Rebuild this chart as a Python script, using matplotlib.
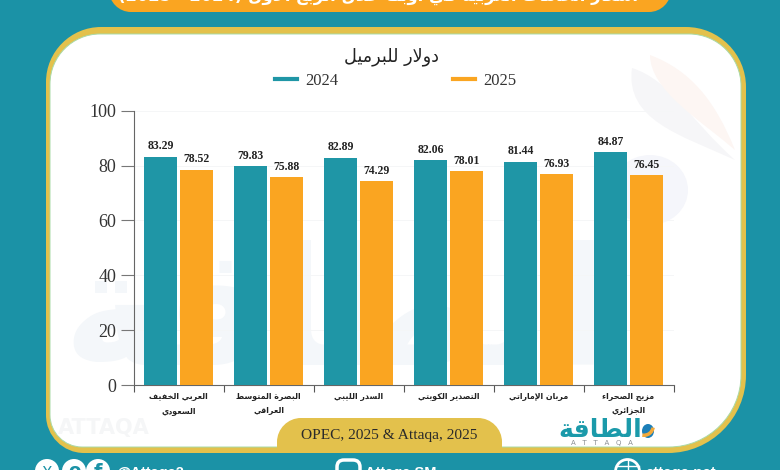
import matplotlib
matplotlib.use("Agg")
import matplotlib.pyplot as plt
from matplotlib.lines import Line2D
from matplotlib.patches import Circle, Ellipse, PathPatch, Wedge, FancyBboxPatch
from matplotlib.path import Path

# data
categories = ["العربي الخفيف\nالسعودي", "البصرة المتوسط\nالعراقي", "السدر الليبي",
              "التصدير الكويتي", "مربان الإماراتي", "مزيج الصحراء\nالجزائري"]
values_2024 = [83.29, 79.83, 82.89, 82.06, 81.44, 84.87]
values_2025 = [78.52, 75.88, 74.29, 78.01, 76.93, 76.45]
y_ticks = [0, 20, 40, 60, 80, 100]
series_names = ["2024", "2025"]
unit_label = "دولار للبرميل"
header_text = "أسعار الخامات العربية في أوبك خلال الربع الأول (2025\u00a0-\u00a02024)"
source_text = "OPEC, 2025 & Attaqa, 2025"
logo_text = "الطاقة"

TEAL = "#1B92A6"
BAR_TEAL = "#1F96A6"
ORANGE = "#FAA521"
GOLD = "#E3C14C"
SERIF = "Liberation Serif"
ARABIC = "DejaVu Sans"

# matplotlib does not join arabic letters, so pick the presentation forms here
FOUR = {"ئ": 0xFE89, "ب": 0xFE8F, "ت": 0xFE95, "ث": 0xFE99, "ج": 0xFE9D, "ح": 0xFEA1, "خ": 0xFEA5,
        "س": 0xFEB1, "ش": 0xFEB5, "ص": 0xFEB9, "ض": 0xFEBD, "ط": 0xFEC1, "ظ": 0xFEC5, "ع": 0xFEC9,
        "غ": 0xFECD, "ف": 0xFED1, "ق": 0xFED5, "ك": 0xFED9, "ل": 0xFEDD, "م": 0xFEE1, "ن": 0xFEE5,
        "ه": 0xFEE9, "ي": 0xFEF1}
TWO = {"آ": 0xFE81, "أ": 0xFE83, "ؤ": 0xFE85, "إ": 0xFE87, "ا": 0xFE8D, "ة": 0xFE93, "د": 0xFEA9,
       "ذ": 0xFEAB, "ر": 0xFEAD, "ز": 0xFEAF, "و": 0xFEED, "ى": 0xFEEF}
LAM_ALEF = {"آ": 0xFEF5, "أ": 0xFEF7, "إ": 0xFEF9, "ا": 0xFEFB}


def shape_word(word):
    out = []
    joins = False
    i = 0
    while i < len(word):
        c = word[i]
        nxt = word[i + 1] if i + 1 < len(word) else ""
        if c == "ل" and nxt in LAM_ALEF:
            out.append(chr(LAM_ALEF[nxt] + (1 if joins else 0)))
            joins = False
            i += 2
            continue
        if c in FOUR:
            next_ok = nxt in FOUR or nxt in TWO
            form = (3 if next_ok else 1) if joins else (2 if next_ok else 0)
            out.append(chr(FOUR[c] + form))
            joins = next_ok
        elif c in TWO:
            out.append(chr(TWO[c] + (1 if joins else 0)))
            joins = False
        else:
            out.append(c)
            joins = False
        i += 1
    return "".join(reversed(out))


def ar(text):
    lines = []
    for line in text.split("\n"):
        words = [w if w[0] in "(0123456789" else shape_word(w) for w in line.split(" ")]
        lines.append(" ".join(reversed(words)))
    return "\n".join(lines)


def round_box(x0, y0, x1, y1, tl, tr, br, bl):
    # y grows downward here (pixel coords)
    k = 0.45
    verts = [(x0 + tl, y0), (x1 - tr, y0),
             (x1 - tr * k, y0), (x1, y0 + tr * k), (x1, y0 + tr),
             (x1, y1 - br),
             (x1, y1 - br * k), (x1 - br * k, y1), (x1 - br, y1),
             (x0 + bl, y1),
             (x0 + bl * k, y1), (x0, y1 - bl * k), (x0, y1 - bl),
             (x0, y0 + tl),
             (x0, y0 + tl * k), (x0 + tl * k, y0), (x0 + tl, y0),
             (x0 + tl, y0)]
    codes = [Path.MOVETO, Path.LINETO,
             Path.CURVE4, Path.CURVE4, Path.CURVE4,
             Path.LINETO,
             Path.CURVE4, Path.CURVE4, Path.CURVE4,
             Path.LINETO,
             Path.CURVE4, Path.CURVE4, Path.CURVE4,
             Path.LINETO,
             Path.CURVE4, Path.CURVE4, Path.CURVE4,
             Path.CLOSEPOLY]
    return Path(verts, codes)


fig = plt.figure(figsize=(7.8, 4.7), dpi=100, facecolor=TEAL)

# background layer in pixel coords
bg = fig.add_axes([0, 0, 1, 1], zorder=0)
bg.set_xlim(0, 780)
bg.set_ylim(470, 0)
bg.axis("off")

# header pill, cut off by the top of the picture
bg.add_patch(PathPatch(round_box(109, -30, 671, 12, 0, 0, 22, 22), fc=ORANGE, ec="none"))
bg.text(378, 2, ar(header_text), color="white", fontsize=11.9, fontweight="bold", family=ARABIC,
        ha="center", va="baseline")

# card
bg.add_patch(PathPatch(round_box(46, 27, 746, 453, 55, 60, 78, 38), fc=GOLD, ec="none"))
bg.add_patch(PathPatch(round_box(50, 34, 741, 447, 50, 52, 72, 32), fc="white", ec="#A9DAA8", lw=0.7))

# watermark
bg.text(335, 365, shape_word(logo_text), color="#F4F7FA", fontsize=118, fontweight="bold", family=ARABIC,
        ha="center", va="baseline")
bg.text(58, 434, "ATTAQA", color="#F5F6F7", fontsize=15, fontweight="bold", family="DejaVu Sans",
        ha="left", va="baseline")
bg.add_patch(Ellipse((650, 190), 76, 70, fc="#F5F6FB", ec="none"))
bg.add_patch(PathPatch(Path([(632, 68), (625, 120), (680, 135), (735, 160), (690, 120), (670, 80), (632, 68)],
                            [Path.MOVETO, Path.CURVE4, Path.CURVE4, Path.CURVE4, Path.CURVE4, Path.CURVE4, Path.CURVE4]),
                       fc="#F6F6F8", ec="none"))
bg.add_patch(PathPatch(Path([(650, 55), (650, 90), (700, 120), (735, 150), (715, 100), (690, 70), (650, 55)],
                            [Path.MOVETO, Path.CURVE4, Path.CURVE4, Path.CURVE4, Path.CURVE4, Path.CURVE4, Path.CURVE4]),
                       fc="#FDF6F3", ec="none"))

# source pill
bg.add_patch(PathPatch(round_box(277, 418, 502, 450, 24, 24, 0, 0), fc=GOLD, ec="none"))
bg.text(389, 435.5, source_text, family=SERIF, fontsize=11.1, color="#2A2A2A", ha="center", va="center")

# logo
bg.text(600, 437, shape_word(logo_text), color="#1B9AAA", fontsize=18, fontweight="bold", family=ARABIC,
        ha="center", va="baseline")
bg.text(602, 445, "A   T   T   A   Q   A", color="#8A8F93", fontsize=5, family="DejaVu Sans", ha="center", va="baseline")
bg.add_patch(Ellipse((648, 431), 12, 14, fc="#1C7FB8", ec="none"))
bg.add_patch(Wedge((644, 426), 11, 10, 100, width=3.5, fc="#F2A93B", ec="none"))

# footer, cut off by the bottom of the picture
for cx in [47, 74, 98]:
    bg.add_patch(Circle((cx, 471), 12, fc="white", ec="none"))
bg.text(47, 478, "X", color=TEAL, fontsize=11, family="DejaVu Sans", ha="center", va="baseline")
bg.text(74, 476, "o", color=TEAL, fontsize=13, fontweight="bold", family="DejaVu Sans", ha="center", va="baseline")
bg.text(98, 478, "f", color=TEAL, fontsize=14, fontweight="bold", family="DejaVu Sans", ha="center", va="baseline")
bg.text(116, 477, "@Attaqa2", color="white", fontsize=10.5, fontweight="bold", family="Liberation Sans", ha="left", va="baseline")
bg.add_patch(FancyBboxPatch((337, 460), 23, 22, boxstyle="round,pad=0,rounding_size=7", fc=TEAL, ec="white", lw=2.5))
bg.text(365, 477, "Attaqa SM", color="white", fontsize=10.5, fontweight="bold", family="Liberation Sans", ha="left", va="baseline")
bg.add_patch(Circle((627.5, 471.5), 12, fc="none", ec="white", lw=2))
bg.add_line(Line2D([627.5, 627.5], [460, 470], color="white", lw=1))
bg.add_line(Line2D([616, 639], [466, 466], color="white", lw=1))
bg.text(645, 477, "attaqa.net", color="white", fontsize=10.8, fontweight="bold", family="Liberation Sans", ha="left", va="baseline")

# chart
ax = fig.add_axes([133.5 / 780, (470 - 385) / 470, 540 / 780, 274.3 / 470], zorder=1)
ax.patch.set_alpha(0)
x = [i + 0.5 for i in range(len(categories))]
bar_w = 0.36
bars_a = ax.bar([p - 0.2 for p in x], values_2024, bar_w, color=BAR_TEAL, zorder=3)
bars_b = ax.bar([p + 0.2 for p in x], values_2025, bar_w, color=ORANGE, zorder=3)
for bars, vals in ((bars_a, values_2024), (bars_b, values_2025)):
    for b, v in zip(bars, vals):
        ax.annotate(f"{v:.2f}", (b.get_x() + b.get_width() / 2, v), xytext=(0, 3), textcoords="offset points",
                    ha="center", va="bottom", fontsize=8.5, fontweight="bold", family=SERIF, color="#222222")

ax.set_xlim(0, 6)
ax.set_ylim(0, 100)
ax.set_yticks(y_ticks)
ax.set_yticklabels([str(t) for t in y_ticks], family=SERIF, fontsize=13, color="#333333")
ax.tick_params(axis="y", length=9.5, width=0.8, color="#777777", pad=3)
ax.yaxis.grid(True, color="#F5F6F7", lw=0.7, zorder=0)
ax.set_xticks(range(7))
ax.set_xticklabels([])
ax.tick_params(axis="x", which="major", length=5, width=0.8, color="#555555")
ax.set_xticks(x, minor=True)
ax.set_xticklabels([ar(c) for c in categories], minor=True, family=ARABIC, fontweight="bold", fontsize=5.7,
                   color="#222222", linespacing=1.7)
ax.tick_params(axis="x", which="minor", length=0, pad=5)
for side in ("top", "right"):
    ax.spines[side].set_visible(False)
for side in ("left", "bottom"):
    ax.spines[side].set_color("#666666")
    ax.spines[side].set_linewidth(0.8)

# unit label and legend
bg.text(392, 57, ar(unit_label), family=ARABIC, fontsize=12.7, color="#222222", ha="center", va="center")
handles = [Line2D([0], [0], color=BAR_TEAL, lw=3), Line2D([0], [0], color=ORANGE, lw=3)]
fig.legend(handles, series_names, ncol=2, loc="center", bbox_to_anchor=(395.5 / 780, 1 - 81 / 470), frameon=False,
           prop={"family": SERIF, "size": 12}, handlelength=1.32, handletextpad=0.5, columnspacing=6.85,
           labelcolor="#333333")

fig.savefig("out.png", dpi=100, facecolor=fig.get_facecolor())
